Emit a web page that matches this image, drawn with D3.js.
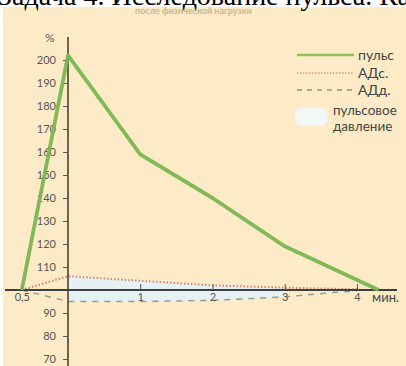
<!DOCTYPE html>
<html><head><meta charset="utf-8">
<script src="https://cdn.jsdelivr.net/npm/d3@7/dist/d3.min.js"></script>
<style>
html,body{margin:0;padding:0;background:#fff;}
svg{display:block;}
</style></head>
<body>
<svg id="c" width="406" height="366"></svg>
<script>
// ---- data ----
const timePoints   = [-0.64, 0, 1, 2, 3, 4.3];
const pulse        = [100, 202, 159, 140, 119, 100];
const sysTime      = [-0.64, 0, 1, 2, 3, 4];
const systolic     = [100, 106, 104, 102, 101, 100.3];
const diaTime      = [-0.64, 0, 1, 2, 3, 3.7, 4];
const diastolic    = [100, 95, 95, 95.5, 97, 99, 99.5];
const fillTime     = [0, 1, 2, 3];
const fillSys      = [106, 104, 102, 101];
const fillDia      = [95, 95, 95.5, 97];
const yTicks       = [70, 80, 90, 110, 120, 130, 140, 150, 160, 170, 180, 190, 200];
const xTicks       = [-0.64, 1, 2, 3, 4];
const xTickLabels  = ["0,5", "1", "2", "3", "4"];
const legendItems  = ["пульс", "АДс.", "АДд."];
const legendArea   = ["пульсовое", "давление"];

const svg = d3.select("#c");
const font = "Lato, 'Open Sans', sans-serif";

// background
svg.append("rect").attr("x",0).attr("y",0).attr("width",406).attr("height",366).attr("fill","#fff");
svg.append("rect").attr("x",3).attr("y",7).attr("width",403).attr("height",359).attr("fill","#fcebc6");

// cropped heading (only its lower part is visible)
svg.append("text").attr("x",-2).attr("y",5).attr("font-family","'Liberation Serif', 'Times New Roman', serif")
  .attr("font-size",28).attr("fill","#000").text("Задача 4. Исследование пульса. Кар");
svg.append("text").attr("x",135).attr("y",14).attr("font-family",font).attr("font-weight","bold")
  .attr("font-size",9).attr("fill","#b5a27e").attr("opacity",0.7).text("после физической нагрузки");

const x = d3.scaleLinear().domain([0,4]).range([68,357]);
const y = d3.scaleLinear().domain([70,200]).range([359,60]);

// pulse pressure area
const area = d3.area().x((d,i)=>x(fillTime[i])).y0((d,i)=>y(fillDia[i])).y1((d,i)=>y(fillSys[i])).curve(d3.curveLinear);
svg.append("path").datum(fillTime).attr("d",area).attr("fill","#e6f1f3");

// lines
const line = (xs,ys)=>d3.line().x((d,i)=>x(xs[i])).y((d,i)=>y(ys[i]))(xs);
svg.append("path").attr("d",line(sysTime,systolic)).attr("fill","none")
  .attr("stroke","#cf8476").attr("stroke-width",2).attr("stroke-dasharray","1.5,2");
svg.append("path").attr("d",line(diaTime,diastolic)).attr("fill","none")
  .attr("stroke","#8e9a96").attr("stroke-width",1.4).attr("stroke-dasharray","6,6");

// x axis
svg.append("line").attr("x1",5).attr("x2",397).attr("y1",y(100)).attr("y2",y(100))
  .attr("stroke","#3b4140").attr("stroke-width",2);
const xAxis = d3.axisBottom(x).tickValues(xTicks).tickFormat((d,i)=>xTickLabels[i])
  .tickSizeInner(-6).tickSizeOuter(0).tickPadding(3);
const gx = svg.append("g").attr("transform",`translate(0,${y(100)})`).call(xAxis);
gx.select(".domain").remove();
gx.selectAll(".tick line").attr("stroke","#555").attr("stroke-width",1);
gx.selectAll(".tick text").attr("font-family",font).attr("font-size",11).attr("fill","#555");
svg.append("text").attr("x",372).attr("y",302).attr("font-family",font).attr("font-size",13)
  .attr("fill","#444").text("мин.");

// y axis
svg.append("line").attr("x1",x(0)).attr("x2",x(0)).attr("y1",y(210)).attr("y2",366)
  .attr("stroke","#4b4130").attr("stroke-width",1.6);
const yAxis = d3.axisLeft(y).tickValues(yTicks).tickSizeInner(5).tickSizeOuter(0).tickPadding(7);
const gy = svg.append("g").attr("transform",`translate(${x(0)},0)`).call(yAxis);
gy.select(".domain").remove();
gy.selectAll(".tick line").attr("stroke","#555").attr("stroke-width",1);
gy.selectAll(".tick text").attr("font-family",font).attr("font-size",11).attr("fill","#555");
svg.append("text").attr("x",45).attr("y",42).attr("font-family",font).attr("font-size",12)
  .attr("fill","#555").text("%");

// pulse line
svg.append("path").attr("d",line(timePoints,pulse)).attr("fill","none")
  .attr("stroke","#7ab653").attr("stroke-width",3.8).attr("stroke-linejoin","round").attr("stroke-opacity",0.95);

// legend
const lg = svg.append("g");
const lx1 = 297, lx2 = 354;
const ly = [55, 73, 90];
lg.append("line").attr("x1",lx1).attr("x2",lx2).attr("y1",ly[0]).attr("y2",ly[0]).attr("stroke","#8cc15c").attr("stroke-width",2.5);
lg.append("line").attr("x1",lx1).attr("x2",lx2).attr("y1",ly[1]).attr("y2",ly[1]).attr("stroke","#d99a74").attr("stroke-width",1.6).attr("stroke-dasharray","1.5,1.5");
lg.append("line").attr("x1",lx1).attr("x2",lx2).attr("y1",ly[2]).attr("y2",ly[2]).attr("stroke","#8c9a86").attr("stroke-width",1.6).attr("stroke-dasharray","5,5");
legendItems.forEach((t,i)=>{
  lg.append("text").attr("x",358).attr("y",ly[i]+4.5).attr("font-family",font).attr("font-size",14).attr("fill","#444").text(t);
});
lg.append("rect").attr("x",295).attr("y",108).attr("width",32).attr("height",18).attr("rx",6)
  .attr("fill","#f2f8f8");
legendArea.forEach((t,i)=>{
  lg.append("text").attr("x",333).attr("y",115+i*16).attr("font-family",font).attr("font-size",13.5).attr("fill","#444").text(t);
});
</script>
</body></html>
